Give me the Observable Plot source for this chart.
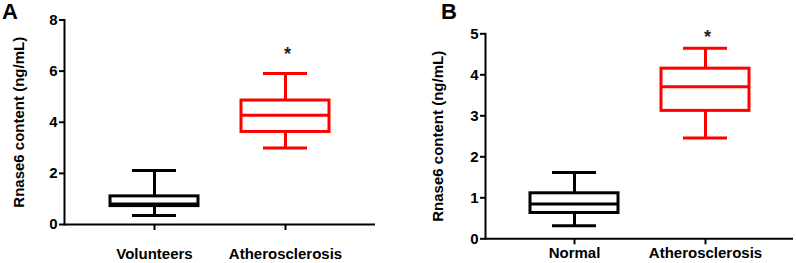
<!DOCTYPE html>
<html>
<head>
<meta charset="utf-8">
<script src="https://cdn.jsdelivr.net/npm/d3@7"></script>
<script src="https://cdn.jsdelivr.net/npm/@observablehq/plot@0.6"></script>
<style>
  html, body { margin: 0; padding: 0; background: #fff; }
  #wrap { position: relative; width: 796px; height: 263px; display: flex; }
  .panel { position: relative; }
  .letter { position: absolute; font: bold 22px "Liberation Sans", Arial, sans-serif; line-height: 22px; color: #000; }
</style>
</head>
<body>
<div id="wrap">
  <div class="panel" id="pa"><div class="letter" style="left:2px;top:1px">A</div></div>
  <div class="panel" id="pb"><div class="letter" style="left:41px;top:1px">B</div></div>
</div>
<script>
// Panel A data
const groupsA = ["Volunteers", "Atherosclerosis"];
const minA = [0.35, 2.99];
const q1A  = [0.72, 3.62];
const medA = [0.80, 4.27];
const q3A  = [1.10, 4.85];
const maxA = [2.11, 5.91];
const starA = [false, true];
const ticksA = [0, 2, 4, 6, 8];

// Panel B data
const groupsB = ["Normal", "Atherosclerosis"];
const minB = [0.32, 2.46];
const q1B  = [0.63, 3.12];
const medB = [0.85, 3.71];
const q3B  = [1.11, 4.15];
const maxB = [1.62, 4.65];
const starB = [false, true];
const ticksB = [0, 1, 2, 3, 4, 5];

const colors = ["#000000", "#ff0000"];
const FONT = '"Liberation Sans", Arial, sans-serif';
const yLabel = "Rnase6 content (ng/mL)";

function rows(groups, mn, q1, md, q3, mx, star) {
  return groups.map((g, i) => ({group: g, min: mn[i], q1: q1[i], med: md[i], q3: q3[i], max: mx[i], star: star[i], color: colors[i]}));
}

function panel(o) {
  const data = rows(o.groups, o.min, o.q1, o.med, o.q3, o.max, o.star);
  return Plot.plot({
    width: o.width, height: 263,
    marginTop: o.mt, marginBottom: o.mb, marginLeft: o.ml, marginRight: o.mr,
    style: {fontFamily: FONT, fontWeight: "bold", fontSize: "15px", color: "#000", background: "#fff"},
    x: {domain: o.groups, paddingInner: 0.33, paddingOuter: o.po, label: null},
    y: {domain: [0, o.ymax], label: null},
    marks: [
      Plot.ruleX(data, {x: "group", y1: "q3", y2: "max", stroke: "color", strokeWidth: 3}),
      Plot.ruleX(data, {x: "group", y1: "min", y2: "q1", stroke: "color", strokeWidth: 3}),
      Plot.tickY(data, {x: "group", y: "max", stroke: "color", strokeWidth: 3, insetLeft: 22, insetRight: 22}),
      Plot.tickY(data, {x: "group", y: "min", stroke: "color", strokeWidth: 3, insetLeft: 22, insetRight: 22}),
      Plot.barY(data, {x: "group", y1: "q1", y2: "q3", fill: "white", stroke: "color", strokeWidth: 3}),
      Plot.tickY(data, {x: "group", y: "med", stroke: "color", strokeWidth: 3}),
      Plot.text(data.filter(d => d.star), {x: "group", y: "max", text: () => "*", dy: o.starDy, dx: 2, fontSize: 18, fill: "#222", fontWeight: "bold"}),
      Plot.ruleY([0], {stroke: "#000", strokeWidth: 2}),
      Plot.frame({anchor: "left", stroke: "#000", strokeWidth: 2}),
      Plot.axisY({ticks: o.ticks, tickFormat: d3.format("d"), tickSize: 5, tickPadding: 2, strokeWidth: 2,
        fontSize: 15, fontWeight: "bold", fill: "#000",
        label: yLabel, labelAnchor: "center", labelOffset: o.lo, labelArrow: false}),
      Plot.axisX({tickSize: 6, tickPadding: o.tp, strokeWidth: 2, fontSize: 15, fontWeight: "bold", fill: "#000", label: null})
    ]
  });
}

document.getElementById("pa").append(panel({
  groups: groupsA, min: minA, q1: q1A, med: medA, q3: q3A, max: maxA, star: starA, ticks: ticksA,
  ymax: 8, width: 400, mt: 19.5, mb: 39, ml: 64, mr: 25, po: 0.352, lo: 51, tp: 18, starDy: -19
}));
document.getElementById("pb").append(panel({
  groups: groupsB, min: minB, q1: q1B, med: medB, q3: q3B, max: maxB, star: starB, ticks: ticksB,
  ymax: 5, width: 396, mt: 33.3, mb: 24.7, ml: 85, mr: 3, po: 0.333, lo: 53, tp: 3, starDy: -11
}));
</script>
</body>
</html>
